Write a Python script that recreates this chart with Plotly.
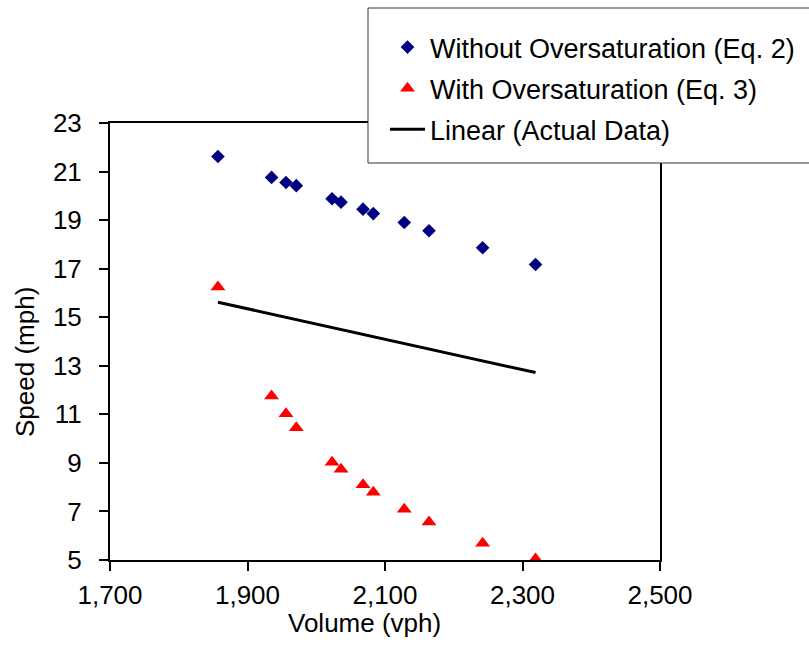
import plotly.graph_objects as go

volume = [1857, 1935, 1956, 1971, 2023, 2036, 2068, 2083, 2128, 2164, 2242, 2319]
speed_eq2 = [21.62, 20.76, 20.55, 20.42, 19.88, 19.74, 19.45, 19.27, 18.90, 18.56, 17.86, 17.17]
speed_eq3 = [16.24, 11.76, 11.02, 10.45, 9.03, 8.74, 8.10, 7.79, 7.09, 6.57, 5.69, 5.04]
linear_x = [1857, 2319]
linear_y = [15.62, 12.72]

x_ticks = [1700, 1900, 2100, 2300, 2500]
x_labels = ["1,700", "1,900", "2,100", "2,300", "2,500"]
y_ticks = [5, 7, 9, 11, 13, 15, 17, 19, 21, 23]

FONT = "Liberation Sans, Arial, sans-serif"
FS = 26

fig = go.Figure()
fig.add_trace(go.Scatter(x=volume, y=speed_eq2, mode="markers",
                         name="Without Oversaturation (Eq. 2)", legendgroup="a",
                         marker=dict(symbol="diamond", size=10.5, color="#000080")))
fig.add_trace(go.Scatter(x=volume, y=speed_eq3, mode="markers",
                         name="With Oversaturation (Eq. 3)", legendgroup="b",
                         marker=dict(symbol="triangle-up", size=13, color="#FF0000")))
fig.add_trace(go.Scatter(x=linear_x, y=linear_y, mode="lines",
                         name="Linear (Actual Data)", legendgroup="c",
                         line=dict(color="black", width=3)))

W, H = 809, 658
L, R, T, B = 110, 149, 123, 98
pw = W - L - R
ph = H - T - B

def px(xp):
    return (xp - L) / pw

def py(yp):
    return (H - B - yp) / ph

fig.add_shape(type="rect", xref="paper", yref="paper", x0=px(368), x1=px(820), y0=py(163), y1=py(8),
              line=dict(color="#333333", width=1), fillcolor="white", layer="above")

fig.add_annotation(text="Volume (vph)", xref="paper", yref="paper", x=px(364), y=py(623),
                   xanchor="center", yanchor="middle", showarrow=False,
                   font=dict(family=FONT, size=FS, color="black"))
fig.add_annotation(text="Speed (mph)", xref="paper", yref="paper", x=px(25), y=py(362),
                   xanchor="center", yanchor="middle", showarrow=False, textangle=-90,
                   font=dict(family=FONT, size=FS, color="black"))

fig.update_layout(
    width=W, height=H,
    margin=dict(l=L, r=R, t=T, b=B, autoexpand=False),
    paper_bgcolor="white", plot_bgcolor="white",
    font=dict(family=FONT, size=FS, color="black"),
    showlegend=True,
    legend=dict(x=px(385), y=py(23), xanchor="left", yanchor="top",
                bgcolor="rgba(0,0,0,0)", borderwidth=0, itemwidth=35,
                font=dict(family=FONT, size=27, color="black"),
                traceorder="grouped", tracegroupgap=3),
    xaxis=dict(range=[1700, 2500], tickvals=x_ticks, ticktext=x_labels,
               showline=True, linecolor="black", linewidth=2, mirror=True,
               ticks="outside", ticklen=9, tickwidth=2, tickcolor="black",
               showgrid=False, zeroline=False, ticklabelstandoff=2,
               tickfont=dict(family=FONT, size=FS)),
    yaxis=dict(range=[5, 23], tickvals=y_ticks,
               showline=True, linecolor="black", linewidth=2, mirror=True,
               ticks="outside", ticklen=9, tickwidth=2, tickcolor="black",
               showgrid=False, zeroline=False, ticklabelstandoff=12,
               tickfont=dict(family=FONT, size=FS)),
)

fig.write_html("out.html")
